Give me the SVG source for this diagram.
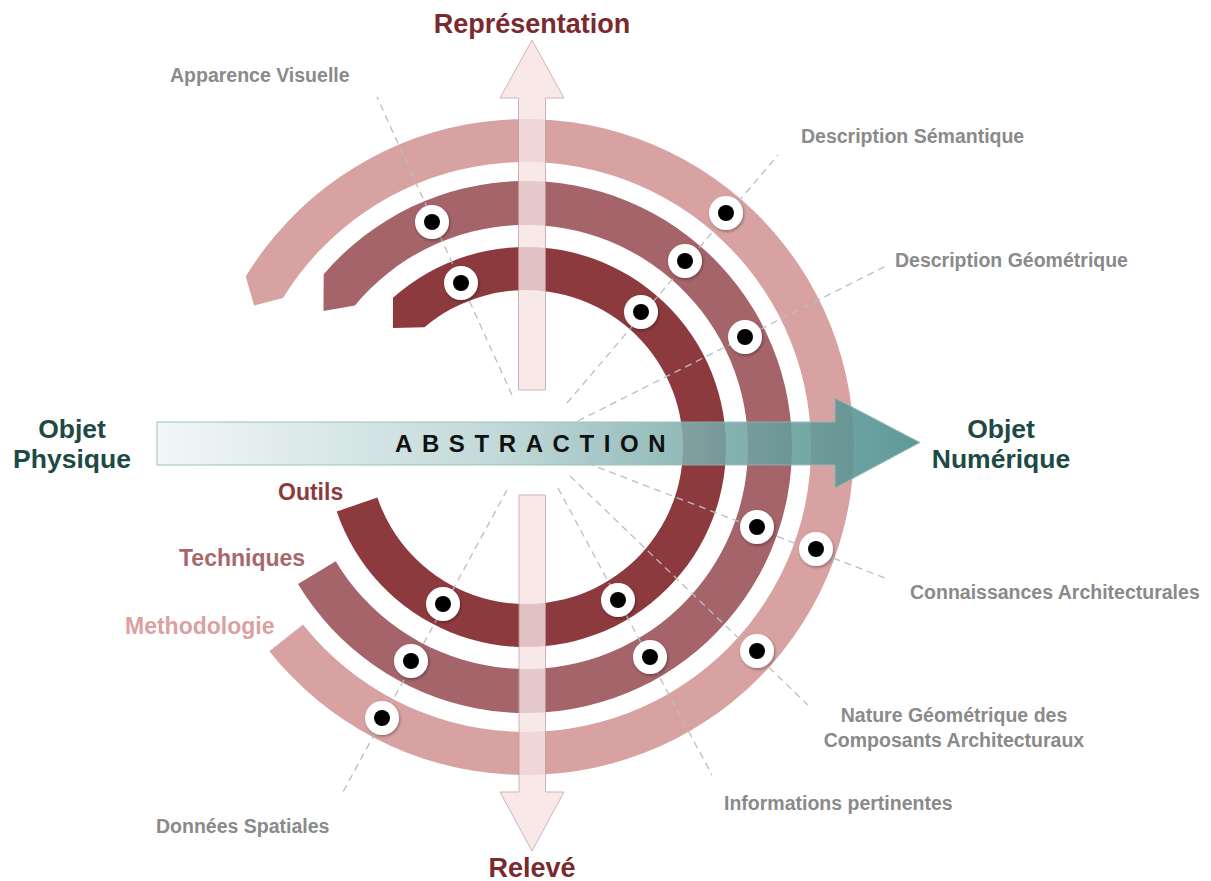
<svg xmlns="http://www.w3.org/2000/svg" width="1211" height="881" viewBox="0 0 1211 881">
<defs>
<style>
text{font-family:"Liberation Sans",Arial,sans-serif;font-weight:bold}
.lbl{fill:#8a8a8a;font-size:19.5px}
.ring{font-size:23px}
.dash{stroke:#bdbdbd;stroke-width:1.3;stroke-dasharray:7 5;fill:none}
.vArrow{fill:#f7e3e3;stroke:#c4a0a2;stroke-width:1;opacity:0.8}
.halo{fill:#fff;filter:url(#sh)}
.dot{fill:#000}
.obj{fill:#1d4a45;font-size:26.5px}
.axis{fill:#7a2a2e;font-size:27px}
</style>
<linearGradient id="hg" gradientUnits="userSpaceOnUse" x1="157" y1="0" x2="920" y2="0">
<stop offset="0" stop-color="#f0f6f6"/>
<stop offset="0.45" stop-color="#b8d4d3"/>
<stop offset="0.75" stop-color="#74a7a6"/>
<stop offset="1" stop-color="#478b8a"/>
</linearGradient>
<filter id="sh" x="-50%" y="-50%" width="200%" height="200%">
<feDropShadow dx="1" dy="1.5" stdDeviation="1.5" flood-color="#000" flood-opacity="0.35"/>
</filter>
</defs>
<rect width="1211" height="881" fill="#fff"/>

<g id="ring-methodologie">
<path d="M245.7,276.6 A328,328 0 1 1 269.3,651.2 L303,624.4 A285,285 0 1 0 283,298.1 L254.1,305.5 Z" fill="#d8a2a2"/>
</g>
<g id="ring-techniques">
<path d="M323.7,274.3 A266,266 0 1 1 298,584 L335.7,561.3 A222,222 0 1 0 354.9,305.5 L323.5,310.9 Z" fill="#a4646a"/>
</g>
<g id="ring-outils">
<path d="M393,297.7 A200,200 0 1 1 336.7,511.5 L377.4,497.6 A157,157 0 1 0 424.5,327.3 L392.9,328 Z" fill="#8d3a3e"/>
</g>

<g id="arrow-representation">
<path class="vArrow" d="M518.5,390 L518.5,98 L500,98 L532,40 L564,98 L545.5,98 L545.5,390 Z"/>
</g>
<g id="arrow-releve">
<path class="vArrow" d="M519,495 L519,792 L500,792 L532,851 L564,792 L545.5,792 L545.5,495 Z"/>
</g>
<g id="arrow-abstraction">
<path d="M157,422 L835,422 L835,398 L920,442.5 L835,488 L835,465 L157,465 Z" fill="url(#hg)" stroke="#8fb7b6" stroke-width="1" opacity="0.87"/>
<text x="395" y="452" font-size="24" letter-spacing="9.6" fill="#111">ABSTRACTION</text>
</g>

<g id="connectors">
<line class="dash" x1="512" y1="395" x2="377" y2="97"/>
<line class="dash" x1="567" y1="403" x2="778" y2="155"/>
<line class="dash" x1="578" y1="421" x2="886" y2="266"/>
<line class="dash" x1="587" y1="463" x2="885" y2="578"/>
<line class="dash" x1="570" y1="476" x2="808" y2="705"/>
<line class="dash" x1="558" y1="488" x2="712" y2="775"/>
<line class="dash" x1="507" y1="490" x2="343" y2="792"/>
</g>

<g id="dots">
<circle class="halo" cx="432" cy="222" r="17"/><circle class="dot" cx="432" cy="222" r="8"/>
<circle class="halo" cx="461" cy="283" r="17"/><circle class="dot" cx="461" cy="283" r="8"/>
<circle class="halo" cx="726" cy="213" r="17"/><circle class="dot" cx="726" cy="213" r="8"/>
<circle class="halo" cx="685" cy="261" r="17"/><circle class="dot" cx="685" cy="261" r="8"/>
<circle class="halo" cx="641" cy="312" r="17"/><circle class="dot" cx="641" cy="312" r="8"/>
<circle class="halo" cx="745" cy="337" r="17"/><circle class="dot" cx="745" cy="337" r="8"/>
<circle class="halo" cx="757" cy="527" r="17"/><circle class="dot" cx="757" cy="527" r="8"/>
<circle class="halo" cx="816" cy="549" r="17"/><circle class="dot" cx="816" cy="549" r="8"/>
<circle class="halo" cx="757" cy="651" r="17"/><circle class="dot" cx="757" cy="651" r="8"/>
<circle class="halo" cx="618" cy="600" r="17"/><circle class="dot" cx="618" cy="600" r="8"/>
<circle class="halo" cx="650" cy="657" r="17"/><circle class="dot" cx="650" cy="657" r="8"/>
<circle class="halo" cx="443" cy="604" r="17"/><circle class="dot" cx="443" cy="604" r="8"/>
<circle class="halo" cx="411" cy="661" r="17"/><circle class="dot" cx="411" cy="661" r="8"/>
<circle class="halo" cx="382" cy="718" r="17"/><circle class="dot" cx="382" cy="718" r="8"/>
</g>

<g id="label-representation"><text class="axis" x="532" y="33" text-anchor="middle">Représentation</text></g>
<g id="label-releve"><text class="axis" x="532" y="877" text-anchor="middle">Relevé</text></g>
<g id="label-objet-physique">
<text class="obj" x="72" y="438" text-anchor="middle">Objet</text>
<text class="obj" x="72" y="468" text-anchor="middle">Physique</text>
</g>
<g id="label-objet-numerique">
<text class="obj" x="1001" y="438" text-anchor="middle">Objet</text>
<text class="obj" x="1001" y="468" text-anchor="middle">Numérique</text>
</g>
<g id="label-outils"><text class="ring" x="278" y="500" fill="#8b3a3e">Outils</text></g>
<g id="label-techniques"><text class="ring" x="179" y="566" fill="#a8686b">Techniques</text></g>
<g id="label-methodologie"><text class="ring" x="125" y="634" fill="#dba0a0">Methodologie</text></g>

<g id="label-apparence"><text class="lbl" x="170" y="82">Apparence Visuelle</text></g>
<g id="label-semantique"><text class="lbl" x="801" y="143">Description Sémantique</text></g>
<g id="label-geometrique"><text class="lbl" x="895" y="267">Description Géométrique</text></g>
<g id="label-connaissances"><text class="lbl" x="910" y="599">Connaissances Architecturales</text></g>
<g id="label-nature">
<text class="lbl" x="954" y="722" text-anchor="middle">Nature Géométrique des</text>
<text class="lbl" x="954" y="747" text-anchor="middle">Composants Architecturaux</text>
</g>
<g id="label-informations"><text class="lbl" x="724" y="810">Informations pertinentes</text></g>
<g id="label-donnees"><text class="lbl" x="156" y="833">Données Spatiales</text></g>
</svg>
